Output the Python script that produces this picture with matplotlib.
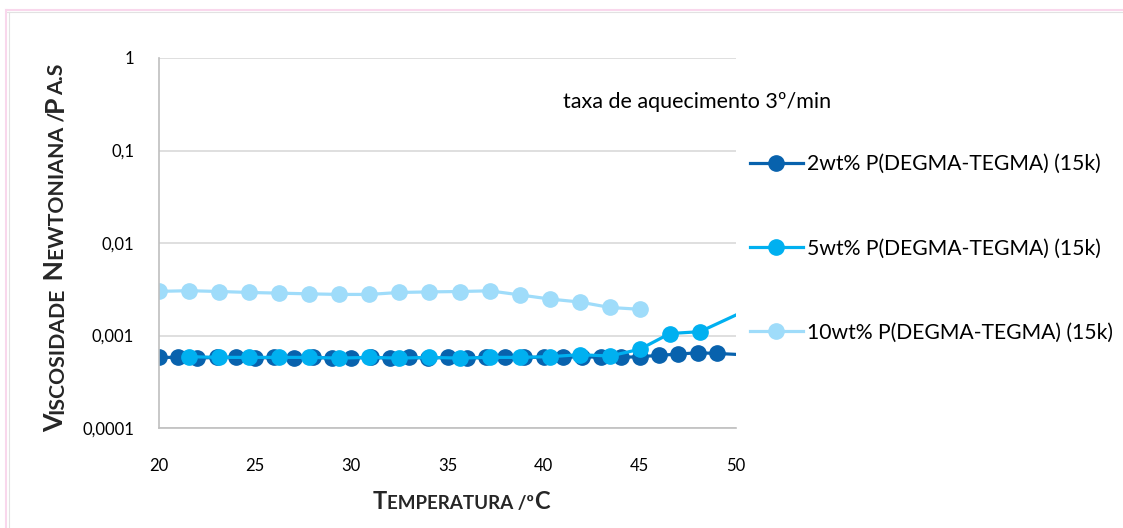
import matplotlib
matplotlib.use('Agg')
import matplotlib.pyplot as plt
import matplotlib.transforms as mtrans
from matplotlib.lines import Line2D
import numpy as np

plt.rcParams['font.family'] = ['Lato', 'DejaVu Sans']

# data
t_2wt = [20, 21, 22, 23, 24, 25, 26, 27, 28, 29, 30, 31, 32, 33, 34, 35, 36, 37, 38, 39,
         40, 41, 42, 43, 44, 45, 46, 47, 48, 49, 51]
visc_2wt = [0.00058, 0.00058, 0.00057, 0.00058, 0.00058, 0.00057, 0.00058, 0.00057, 0.00058, 0.00057,
            0.00057, 0.00058, 0.00057, 0.00058, 0.00057, 0.00058, 0.00057, 0.00058, 0.00058, 0.00058,
            0.00058, 0.00058, 0.00059, 0.00058, 0.00058, 0.00059, 0.00061, 0.00063, 0.00065, 0.00064,
            0.00061]

t_5wt = [21.56, 23.13, 24.69, 26.25, 27.81, 29.38, 30.94, 32.5, 34.06, 35.63, 37.19,
         38.75, 40.31, 41.88, 43.44, 45.0, 46.56, 48.13, 51.25]
visc_5wt = [0.00059, 0.00058, 0.00058, 0.00058, 0.00058, 0.00057, 0.00058, 0.00057, 0.00058,
            0.00057, 0.00058, 0.00058, 0.00059, 0.00062, 0.00060, 0.00071, 0.00105, 0.00110, 0.0022]

t_10wt = [20.0, 21.56, 23.13, 24.69, 26.25, 27.81, 29.38, 30.94, 32.5, 34.06, 35.63, 37.19,
          38.75, 40.31, 41.88, 43.44, 45.0]
visc_10wt = [0.00300, 0.00305, 0.00299, 0.00292, 0.00287, 0.00282, 0.00278, 0.00278, 0.00292, 0.00296,
             0.00299, 0.00304, 0.00275, 0.00248, 0.00230, 0.00201, 0.00192]

labels = ['2wt% P(DEGMA-TEGMA) (15k)', '5wt% P(DEGMA-TEGMA) (15k)', '10wt% P(DEGMA-TEGMA) (15k)']
colors = ['#0862ad', '#00b0f0', '#9fdcfa']
y_ticks = [0.0001, 0.001, 0.01, 0.1, 1]
y_ticklabels = ['0,0001', '0,001', '0,01', '0,1', '1']
x_ticks = [20, 25, 30, 35, 40, 45, 50]

W, H = 1123, 528
fig = plt.figure(figsize=(W / 100, H / 100), dpi=100)
ax = fig.add_axes([159 / W, 1 - 428 / H, (736 - 159) / W, (428 - 58) / H])

for t, v, c, lab in zip([t_2wt, t_5wt, t_10wt], [visc_2wt, visc_5wt, visc_10wt], colors, labels):
    ax.plot(t, v, color=c, lw=2.3, marker='o', ms=11, mec=c, mfc=c, label=lab, clip_on=True)

ax.set_yscale('log')
ax.set_xlim(20, 50)
ax.set_ylim(0.0001, 1)
ax.set_yticks(y_ticks)
ax.set_yticklabels(y_ticklabels)
ax.yaxis.set_minor_locator(matplotlib.ticker.NullLocator())
ax.set_xticks(x_ticks)
ax.tick_params(length=0, labelsize=12, colors='#000000')
ax.tick_params(axis='y', pad=18)
ax.tick_params(axis='x', pad=21.5)
ax.grid(axis='y', color='#d9d9d9', lw=1.2)
ax.set_axisbelow(True)
for s in ['top', 'right']:
    ax.spines[s].set_visible(False)
ax.spines['left'].set_color('#bfbfbf')
ax.spines['bottom'].set_color('#bfbfbf')
ax.spines['left'].set_linewidth(1.2)
ax.spines['bottom'].set_linewidth(1.2)

ax.text(563 / W, 1 - 108 / H, 'taxa de aquecimento 3º/min', transform=fig.transFigure,
        fontsize=15.5, ha='left', va='baseline')

ax.legend(loc='upper left', bbox_to_anchor=(750 / W, 1 - 154 / H), bbox_transform=fig.transFigure,
          frameon=False, fontsize=15.2, handlelength=2.5, handletextpad=0.2,
          labelspacing=3.05, borderpad=0, borderaxespad=0, markerscale=1.0)


def smallcaps(parts, cx, cy, rotation=0):
    # draws text pieces of different sizes one after the other, centred on cx/cy (pixels)
    r = fig.canvas.get_renderer()
    tr = mtrans.IdentityTransform()
    texts, lengths = [], []
    for s, size in parts:
        t = fig.text(0, 0, s, fontsize=size, fontweight='bold', rotation=rotation,
                     rotation_mode='anchor', ha='left', va='baseline', transform=tr, color='#262626')
        bb = t.get_window_extent(r)
        texts.append(t)
        lengths.append(bb.height if rotation else bb.width)
    total = sum(lengths)
    pos = (cy if rotation else cx) - total / 2
    for t, L in zip(texts, lengths):
        if rotation:
            t.set_position((cx, pos))
        else:
            t.set_position((pos, cy))
        pos += L


smallcaps([('T', 17), ('EMPERATURA /º', 13.5), ('C', 17)], 461, H - 509)
smallcaps([('V', 19.2), ('ISCOSIDADE', 15.3), (' N', 19.2), ('EWTONIANA /', 15.3),
           ('P', 19.2), ('A.S', 15.3)], 63, H - 248, rotation=90)

# chart border
fig.add_artist(Line2D([7 / W, 1], [1 - 10 / H, 1 - 10 / H], color='#f9d7ec', lw=1.5, transform=fig.transFigure))
fig.add_artist(Line2D([7 / W, 1], [1 - 12 / H, 1 - 12 / H], color='#e2e2e2', lw=0.8, transform=fig.transFigure))
fig.add_artist(Line2D([6 / W, 6 / W], [0, 1 - 10 / H], color='#f9d7ec', lw=1.5, transform=fig.transFigure))
fig.add_artist(Line2D([9 / W, 9 / W], [0, 1 - 12 / H], color='#e2e2e2', lw=0.8, transform=fig.transFigure))

fig.savefig('out.png', dpi=100)
